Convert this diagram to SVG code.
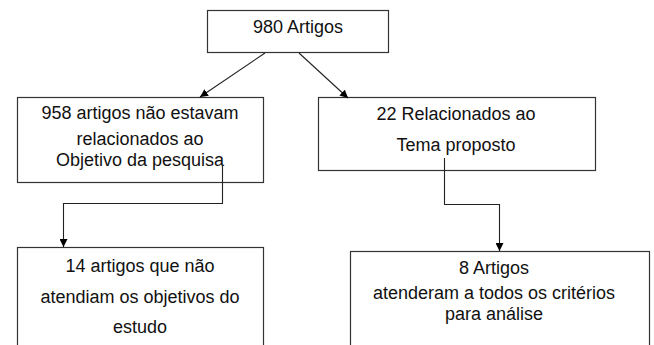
<svg xmlns="http://www.w3.org/2000/svg" width="654" height="345" viewBox="0 0 654 345">
<defs>
<marker id="arr" viewBox="0 0 10 10" refX="10" refY="5" markerWidth="8" markerHeight="8" markerUnits="userSpaceOnUse" orient="auto">
<path d="M0,0 L10,5 L0,10 z" fill="#000"/>
</marker>
<style>
.box{fill:#fff;stroke:#333;stroke-width:1.2}
.t{font-family:"Liberation Sans",Arial,sans-serif;font-size:18px;fill:#111;text-anchor:middle}
.c{fill:none;stroke:#222;stroke-width:1.1}
</style>
</defs>
<rect width="654" height="345" fill="#fff"/>
<g id="n1">
<rect class="box" x="207.5" y="10.5" width="181" height="42"/>
<text class="t" x="298" y="33">980 Artigos</text>
</g>
<g id="n2">
<rect class="box" x="17.5" y="97.5" width="246" height="85"/>
<text class="t" x="140" y="119">958 artigos não estavam</text>
<text class="t" x="140" y="145">relacionados ao</text>
<text class="t" x="140" y="166">Objetivo da pesquisa</text>
</g>
<g id="n3">
<rect class="box" x="318.5" y="97.5" width="277" height="73"/>
<text class="t" x="456" y="120">22 Relacionados ao</text>
<text class="t" x="456" y="151">Tema proposto</text>
</g>
<g id="n4">
<rect class="box" x="17.5" y="247.5" width="246" height="110"/>
<text class="t" x="140" y="272">14 artigos que não</text>
<text class="t" x="140" y="303">atendiam os objetivos do</text>
<text class="t" x="140" y="333">estudo</text>
</g>
<g id="n5">
<rect class="box" x="350.5" y="251.5" width="299" height="110"/>
<text class="t" x="494" y="274">8 Artigos</text>
<text class="t" x="494" y="299">atenderam a todos os critérios</text>
<text class="t" x="494" y="320">para análise</text>
</g>
<g id="connectors">
<path class="c" d="M265,53 L200,97" marker-end="url(#arr)"/>
<path class="c" d="M299,53 L348,98" marker-end="url(#arr)"/>
<path class="c" d="M222.5,165 V203.5 H63.5 V247" marker-end="url(#arr)"/>
<path class="c" d="M444.5,158 V204.5 H499.5 V251" marker-end="url(#arr)"/>
</g>
</svg>
